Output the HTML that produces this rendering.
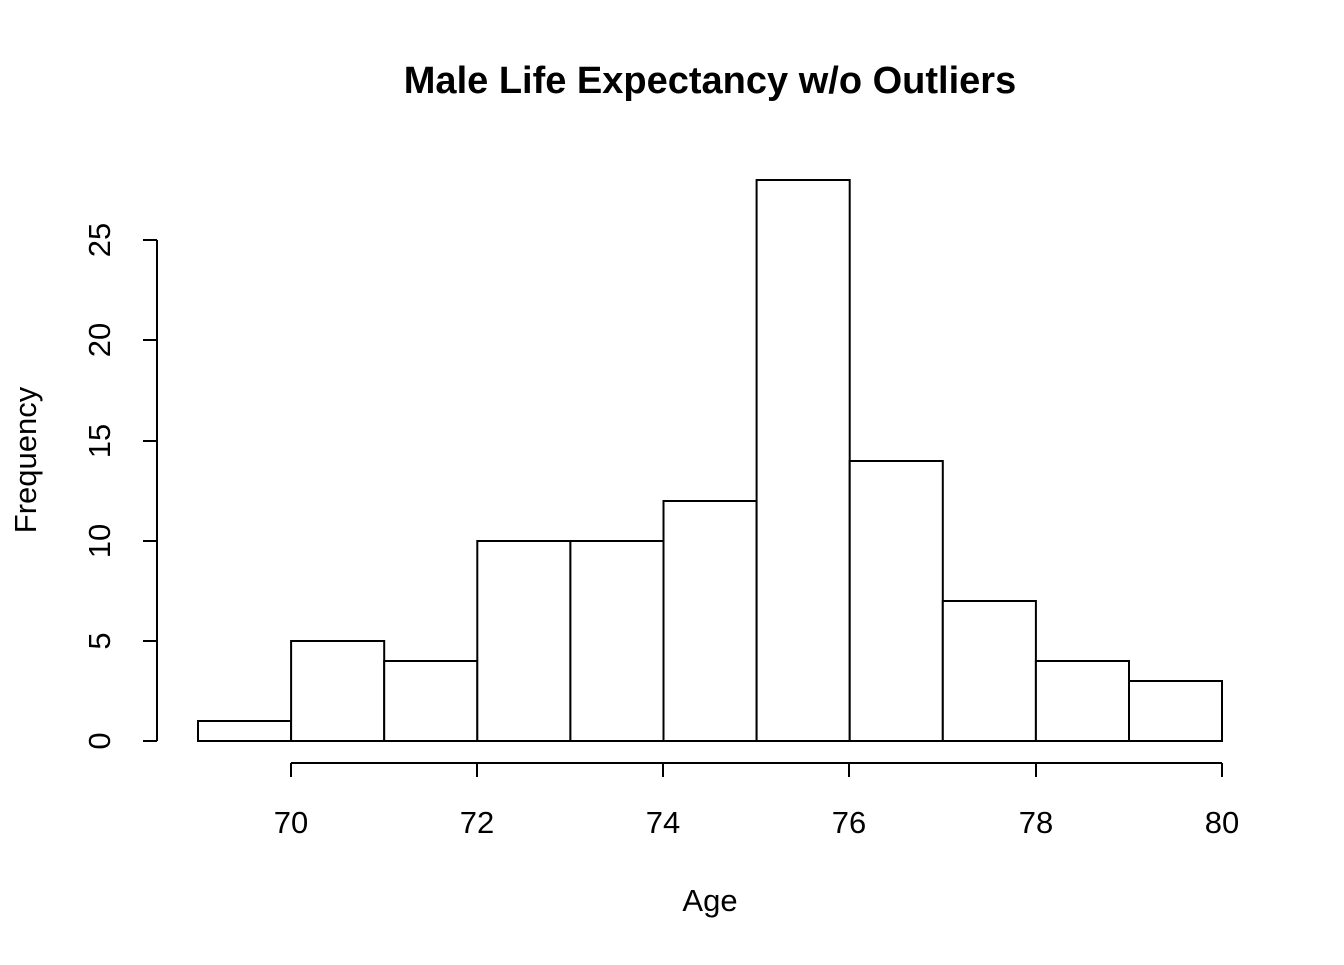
<!DOCTYPE html>
<html><head><style>html,body{margin:0;padding:0;background:#fff}</style></head>
<body>
<svg width="1344" height="960" xmlns="http://www.w3.org/2000/svg" font-family="Liberation Sans, Arial, sans-serif">
<rect width="1344" height="960" fill="#fff"/>
<text x="710" y="93" text-anchor="middle" font-size="38" font-weight="bold">Male Life Expectancy w/o Outliers</text>
<g fill="#fff" stroke="#000" stroke-width="2">
<rect x="198" y="721" width="93.1" height="20"/>
<rect x="291.1" y="641" width="93.1" height="100"/>
<rect x="384.2" y="661" width="93.1" height="80"/>
<rect x="477.3" y="541" width="93.1" height="200"/>
<rect x="570.4" y="541" width="93.1" height="200"/>
<rect x="663.5" y="501" width="93.1" height="240"/>
<rect x="756.6" y="180" width="93.1" height="561"/>
<rect x="849.7" y="461" width="93.1" height="280"/>
<rect x="942.8" y="601" width="93.1" height="140"/>
<rect x="1035.9" y="661" width="93.1" height="80"/>
<rect x="1129" y="681" width="93" height="60"/>
</g>
<g stroke="#000" stroke-width="2" fill="none">
<line x1="157" y1="240" x2="157" y2="741"/>
<line x1="143" y1="741" x2="157" y2="741"/>
<line x1="143" y1="641" x2="157" y2="641"/>
<line x1="143" y1="541" x2="157" y2="541"/>
<line x1="143" y1="441" x2="157" y2="441"/>
<line x1="143" y1="340" x2="157" y2="340"/>
<line x1="143" y1="240" x2="157" y2="240"/>
<line x1="291" y1="763" x2="1222" y2="763"/>
<line x1="291" y1="763" x2="291" y2="777"/>
<line x1="477" y1="763" x2="477" y2="777"/>
<line x1="663" y1="763" x2="663" y2="777"/>
<line x1="849" y1="763" x2="849" y2="777"/>
<line x1="1036" y1="763" x2="1036" y2="777"/>
<line x1="1222" y1="763" x2="1222" y2="777"/>
</g>
<g font-size="31" text-anchor="middle">
<text x="291" y="833">70</text>
<text x="477" y="833">72</text>
<text x="663" y="833">74</text>
<text x="849" y="833">76</text>
<text x="1036" y="833">78</text>
<text x="1222" y="833">80</text>
<text x="710" y="911">Age</text>
<text transform="translate(110,741) rotate(-90)">0</text>
<text transform="translate(110,641) rotate(-90)">5</text>
<text transform="translate(110,541) rotate(-90)">10</text>
<text transform="translate(110,441) rotate(-90)">15</text>
<text transform="translate(110,340) rotate(-90)">20</text>
<text transform="translate(110,240) rotate(-90)">25</text>
<text transform="translate(36,460) rotate(-90)">Frequency</text>
</g>
</svg>
</body></html>
